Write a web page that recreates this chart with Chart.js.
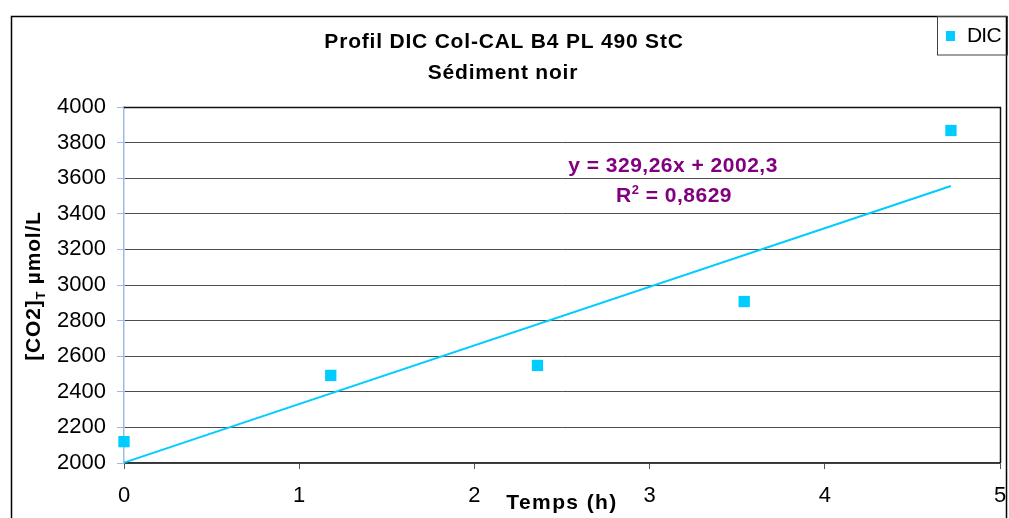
<!DOCTYPE html>
<html>
<head>
<meta charset="utf-8">
<script src="https://cdn.jsdelivr.net/npm/chart.js@4.4.1/dist/chart.umd.min.js"></script>
<style>
  html, body { margin: 0; padding: 0; background: #ffffff; overflow: hidden; }
  #wrap { position: absolute; left: 0; top: 0; width: 1009px; height: 518px; }
</style>
</head>
<body>
<div id="wrap"><canvas id="chart" width="1009" height="518"></canvas></div>
<script>
// Sampling times (hours) and dissolved inorganic carbon measurements
const timesH = [0, 1.18, 2.36, 3.54, 4.72];
const dicValues = [2120, 2492, 2548, 2907, 3868];

// Axis ticks
const xTickValues = [0, 1, 2, 3, 4, 5];
const yTickValues = [2000, 2200, 2400, 2600, 2800, 3000, 3200, 3400, 3600, 3800, 4000];

// Linear trend reported for the series
const trendSlope = 329.26;
const trendIntercept = 2002.3;
const trendR2 = 0.8629;

const titleLines = ['Profil DIC Col-CAL B4 PL 490 StC', 'Sédiment noir'];
const seriesName = 'DIC';
const xTitle = 'Temps (h)';

const CYAN = '#00CCFF';
const PURPLE = '#800080';
const FONT = '"Liberation Sans", Arial, Helvetica, sans-serif';

const frac = v => String(v).replace('.', ',');

const points = timesH.map((t, i) => ({ x: t, y: dicValues[i] }));
const tEnd = timesH[timesH.length - 1];
const trendPoints = [
  { x: timesH[0], y: trendIntercept + trendSlope * timesH[0] },
  { x: tEnd, y: trendIntercept + trendSlope * tEnd }
];

// Draws the frame, titles, equation and legend box around the plot
const decorations = {
  id: 'decorations',
  afterDraw(chart) {
    const ctx = chart.ctx;
    const area = chart.chartArea;
    ctx.save();

    // outer chart border (bottom edge runs past the canvas)
    ctx.strokeStyle = '#000';
    ctx.lineWidth = 1.5;
    ctx.strokeRect(11.5, 16.5, 995, 540);

    // plot frame: top and right edges
    ctx.lineWidth = 1.5;
    ctx.strokeStyle = '#111';
    ctx.beginPath();
    ctx.moveTo(area.left, area.top + 0.5);
    ctx.lineTo(area.right + 0.5, area.top + 0.5);
    ctx.lineTo(area.right + 0.5, area.bottom);
    ctx.stroke();

    // title
    ctx.fillStyle = '#000';
    ctx.textAlign = 'center';
    ctx.textBaseline = 'alphabetic';
    ctx.font = 'bold 21px ' + FONT;
    ctx.letterSpacing = '0.8px';
    ctx.fillText(titleLines[0], 504, 48);
    ctx.fillText(titleLines[1], 503, 79);

    // x axis title
    ctx.letterSpacing = '1.4px';
    ctx.fillText(xTitle, 562, 509);
    ctx.letterSpacing = '0.8px';

    // y axis title with subscript T
    ctx.save();
    ctx.translate(40, 286);
    ctx.rotate(-Math.PI / 2);
    ctx.textAlign = 'left';
    const partA = '[CO2]', partB = 'T', partC = ' µmol/L';
    ctx.font = 'bold 21px ' + FONT;
    const wA = ctx.measureText(partA).width;
    const wC = ctx.measureText(partC).width;
    ctx.font = 'bold 13px ' + FONT;
    const wB = ctx.measureText(partB).width;
    let x0 = -(wA + wB + wC) / 2;
    ctx.font = 'bold 21px ' + FONT;
    ctx.fillText(partA, x0, 0);
    ctx.font = 'bold 13px ' + FONT;
    ctx.fillText(partB, x0 + wA, 5);
    ctx.font = 'bold 21px ' + FONT;
    ctx.fillText(partC, x0 + wA + wB, 0);
    ctx.restore();

    // trend equation and R²
    ctx.fillStyle = PURPLE;
    ctx.font = 'bold 21px ' + FONT;
    ctx.letterSpacing = '0.5px';
    ctx.textAlign = 'center';
    ctx.fillText('y = ' + frac(trendSlope) + 'x + ' + frac(trendIntercept), 673, 172);
    const rA = 'R', rB = '2', rC = ' = ' + frac(trendR2);
    ctx.textAlign = 'left';
    const wRA = ctx.measureText(rA).width;
    const wRC = ctx.measureText(rC).width;
    ctx.font = 'bold 13px ' + FONT;
    const wRB = ctx.measureText(rB).width;
    let rx = 674 - (wRA + wRB + wRC) / 2;
    ctx.font = 'bold 21px ' + FONT;
    ctx.fillText(rA, rx, 202);
    ctx.font = 'bold 13px ' + FONT;
    ctx.fillText(rB, rx + wRA, 194);
    ctx.font = 'bold 21px ' + FONT;
    ctx.fillText(rC, rx + wRA + wRB, 202);

    // legend box
    ctx.letterSpacing = '0px';
    ctx.strokeStyle = '#404040';
    ctx.lineWidth = 1;
    ctx.strokeRect(937.5, 16.5, 70, 38.5);
    ctx.fillStyle = chart.data.datasets[1].backgroundColor;
    ctx.fillRect(946, 31, 9, 10);
    ctx.fillStyle = '#000';
    ctx.font = '21px ' + FONT;
    ctx.letterSpacing = '-0.8px';
    ctx.textAlign = 'left';
    ctx.fillText(seriesName, 967, 42);

    ctx.restore();
  }
};

new Chart(document.getElementById('chart'), {
  type: 'scatter',
  data: {
    datasets: [
      {
        type: 'line',
        label: 'trend',
        data: trendPoints,
        borderColor: CYAN,
        borderWidth: 2,
        pointRadius: 0,
        fill: false,
        clip: false,
        order: 2
      },
      {
        label: seriesName,
        data: points,
        pointStyle: 'rect',
        pointRadius: 8,
        backgroundColor: CYAN,
        borderWidth: 0,
        clip: false,
        order: 1
      }
    ]
  },
  options: {
    responsive: false,
    animation: false,
    events: [],
    layout: { padding: { left: 0, top: 107, right: 9, bottom: 0 } },
    plugins: {
      legend: { display: false },
      title: { display: false },
      tooltip: { enabled: false }
    },
    scales: {
      x: {
        type: 'linear',
        min: xTickValues[0],
        max: xTickValues[xTickValues.length - 1],
        afterBuildTicks: s => { s.ticks = xTickValues.map(v => ({ value: v })); },
        afterFit: s => { s.height = 55; s.paddingLeft = 0; s.paddingRight = 0; },
        grid: { drawOnChartArea: false, tickLength: 6, tickColor: '#555', lineWidth: 1 },
        border: { color: '#333', width: 1.5 },
        ticks: {
          color: '#000',
          font: { family: FONT, size: 22 },
          padding: 14,
          maxRotation: 0,
          autoSkip: false,
          callback: v => String(v)
        }
      },
      y: {
        type: 'linear',
        min: yTickValues[0],
        max: yTickValues[yTickValues.length - 1],
        afterBuildTicks: s => { s.ticks = yTickValues.map(v => ({ value: v })); },
        afterFit: s => { s.width = 124; s.paddingTop = 0; s.paddingBottom = 0; },
        grid: { color: '#4d4d4d', lineWidth: 1, tickLength: 7, tickColor: '#9dbbe3' },
        border: { color: '#9dbbe3', width: 1.5 },
        ticks: {
          color: '#000',
          font: { family: FONT, size: 22 },
          padding: 11,
          autoSkip: false,
          callback: v => String(v)
        }
      }
    }
  },
  plugins: [decorations]
});
</script>
</body>
</html>
